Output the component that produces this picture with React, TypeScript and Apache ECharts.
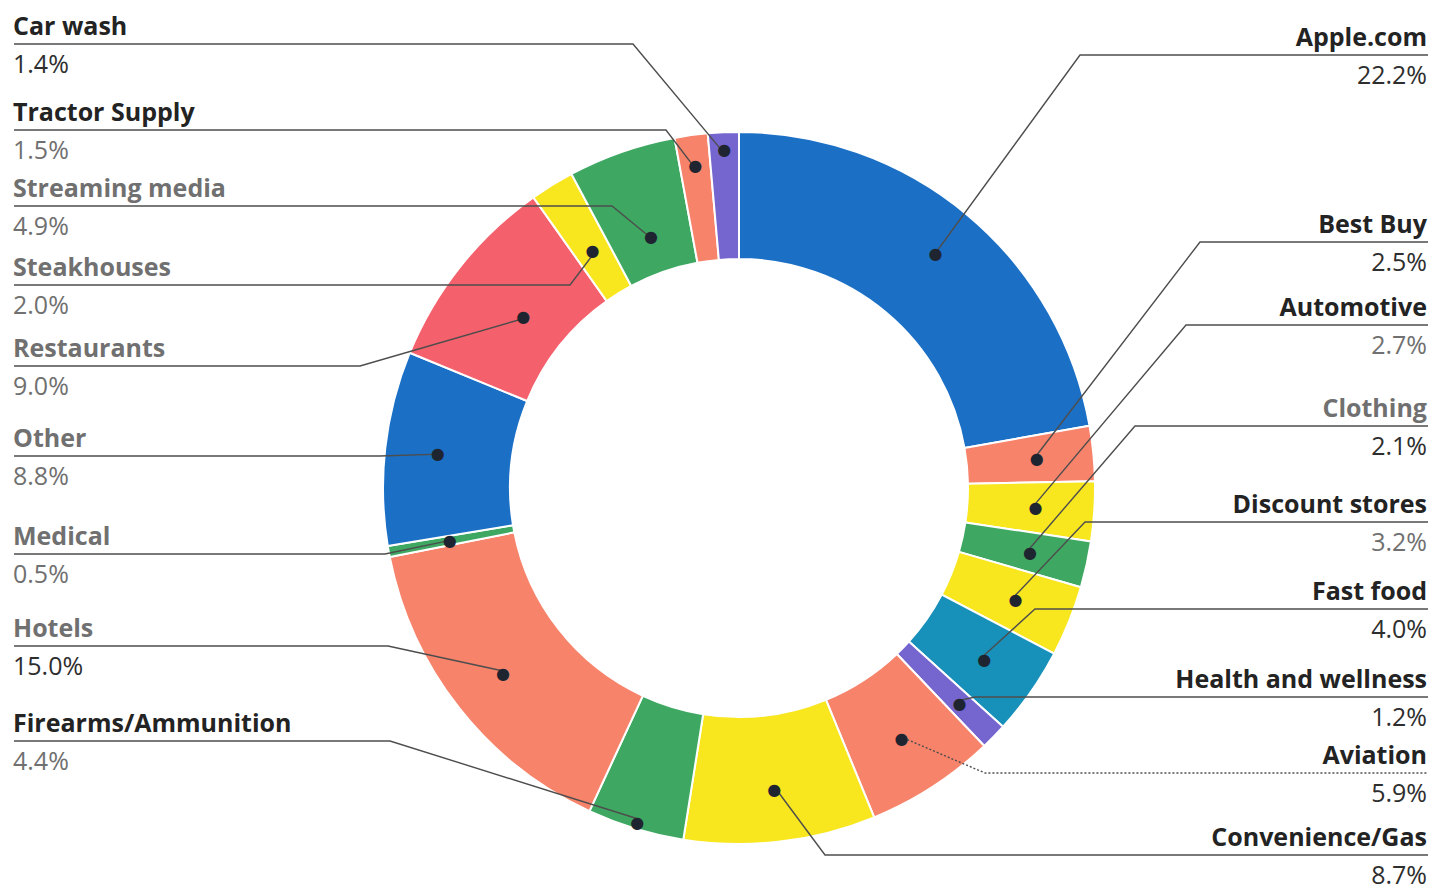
import React, { useEffect, useRef } from 'react';
import * as echarts from 'echarts';

// ---- data (clockwise from 12 o'clock) ----
const categories = [
  'Apple.com',
  'Best Buy',
  'Automotive',
  'Clothing',
  'Discount stores',
  'Fast food',
  'Health and wellness',
  'Aviation',
  'Convenience/Gas',
  'Firearms/Ammunition',
  'Hotels',
  'Medical',
  'Other',
  'Restaurants',
  'Steakhouses',
  'Streaming media',
  'Tractor Supply',
  'Car wash',
];
const shares = [22.2, 2.5, 2.7, 2.1, 3.2, 4.0, 1.2, 5.9, 8.7, 4.4, 15.0, 0.5, 8.8, 9.0, 2.0, 4.9, 1.5, 1.4];

// ---- styles ----
const sliceColors = [
  '#1b70c6', '#f7836b', '#f8e61f', '#3ea862', '#f8e61f', '#1790ba',
  '#7565cf', '#f7836b', '#f8e61f', '#3ea862', '#f7836b', '#3ea862',
  '#1b70c6', '#f4606c', '#f8e61f', '#3ea862', '#f7836b', '#7565cf',
];
const nameTone = ['d', 'd', 'd', 'g', 'd', 'd', 'd', 'd', 'd', 'd', 'g', 'g', 'g', 'g', 'g', 'g', 'd', 'd'];
const valueTone = ['d', 'd', 'g', 'd', 'g', 'd', 'd', 'd', 'd', 'g', 'd', 'g', 'g', 'g', 'g', 'g', 'g', 'd'];

// ---- label layout (annotation positions) ----
const ruleY = [55, 242, 325, 426, 522, 609, 697, 773, 855, 741, 646, 554, 456, 366, 285, 206, 130, 44];
const bendX = [1080, 1200, 1186, 1135, 1085, 1035, 975, 985, 825, 390, 388, 385, 380, 360, 570, 612, 666, 633];
const dotRadius = [303, 296, 294, 295, 295, 296, 305, 296, 300, 346, 297, 291, 300, 273, 276, 264, 322, 335];

const CX = 739;
const CY = 488;
const R_OUT = 356;
const R_IN = 229;
const LEFT_X = 13;
const RIGHT_X = 1427;
const LEFT_EDGE = 14;
const RIGHT_EDGE = 1428;

const FONT = '"Open Sans", "Noto Sans", sans-serif';
const DARK = '#232323';
const GRAY = '#707070';

export default function App() {
  const ref = useRef<HTMLDivElement>(null);

  useEffect(() => {
    if (!ref.current) return;
    const chart = echarts.init(ref.current, undefined, { renderer: 'svg' });

    const sliceData = categories.map((name, i) => ({
      name,
      value: shares[i],
      itemStyle: { color: sliceColors[i] },
    }));
    const labelData = categories.map((name, i) => ({
      name,
      value: shares[i],
      labelLine: name === 'Aviation' ? { lineStyle: { type: [2, 2] } } : undefined,
    }));
    const dotData = categories.map((name, i) => ({ name, value: shares[i] }));

    const nameStyle = { fontFamily: FONT, fontWeight: 'bold', fontSize: 25, lineHeight: 38 };
    const valueStyle = { fontFamily: FONT, fontWeight: 'normal', fontSize: 25, lineHeight: 38 };

    const common = {
      type: 'pie',
      center: [CX, CY],
      radius: [R_IN, R_OUT],
      startAngle: 90,
      clockwise: true,
      avoidLabelOverlap: false,
      silent: true,
      emphasis: { disabled: true },
    };

    chart.setOption({
      animation: false,
      backgroundColor: '#ffffff',
      series: [
        {
          ...common,
          z: 2,
          itemStyle: { borderColor: '#ffffff', borderWidth: 2 },
          label: { show: false },
          labelLine: { show: false },
          data: sliceData,
        },
        {
          ...common,
          z: 3,
          itemStyle: { color: 'rgba(0,0,0,0)', borderWidth: 0 },
          label: {
            show: true,
            position: 'outside',
            overflow: 'none',
            formatter: (p: any) => {
              const i = p.dataIndex;
              const n = nameTone[i] === 'd' ? 'nd' : 'ng';
              const v = valueTone[i] === 'd' ? 'vd' : 'vg';
              return `{${n}|${categories[i]}}\n{${v}|${Number(p.value).toFixed(1)}%}`;
            },
            rich: {
              nd: { ...nameStyle, color: DARK },
              ng: { ...nameStyle, color: GRAY },
              vd: { ...valueStyle, color: '#2e2e2e' },
              vg: { ...valueStyle, color: GRAY },
            },
          },
          labelLine: {
            show: true,
            length: 10,
            length2: 10,
            lineStyle: { color: '#4d4d4d', width: 1.4 },
          },
          labelLayout: (p: any) => {
            const i = p.dataIndex;
            const pts = p.labelLinePoints;
            const right = pts && pts[0] ? pts[0][0] >= CX : i <= 8;
            const y = ruleY[i];
            let dot = [CX, CY];
            if (pts && pts[0]) {
              const k = dotRadius[i] / R_OUT;
              dot = [CX + (pts[0][0] - CX) * k, CY + (pts[0][1] - CY) * k];
            }
            return {
              x: right ? RIGHT_X : LEFT_X,
              y,
              align: right ? 'right' : 'left',
              verticalAlign: 'middle',
              labelLinePoints: [dot, [bendX[i], y], [right ? RIGHT_EDGE : LEFT_EDGE, y]],
            };
          },
          data: labelData,
        },
        {
          ...common,
          z: 4,
          itemStyle: { color: 'rgba(0,0,0,0)', borderWidth: 0 },
          label: {
            show: true,
            position: 'inside',
            formatter: '●',
            fontFamily: '"DejaVu Sans", sans-serif',
            fontSize: 16,
            color: '#1e2530',
          },
          labelLine: { show: false },
          labelLayout: (p: any) => {
            const i = p.dataIndex;
            const r = p.labelRect;
            const mx = r.x + r.width / 2;
            const my = r.y + r.height / 2;
            const k = dotRadius[i] / ((R_OUT + R_IN) / 2);
            return {
              x: CX + (mx - CX) * k,
              y: CY + (my - CY) * k,
              align: 'center',
              verticalAlign: 'middle',
            };
          },
          data: dotData,
        },
      ],
    });

    return () => chart.dispose();
  }, []);

  return (
    <div
      ref={ref}
      style={{ position: 'absolute', left: 0, top: 0, width: 1432, height: 886, background: '#fff' }}
    />
  );
}
